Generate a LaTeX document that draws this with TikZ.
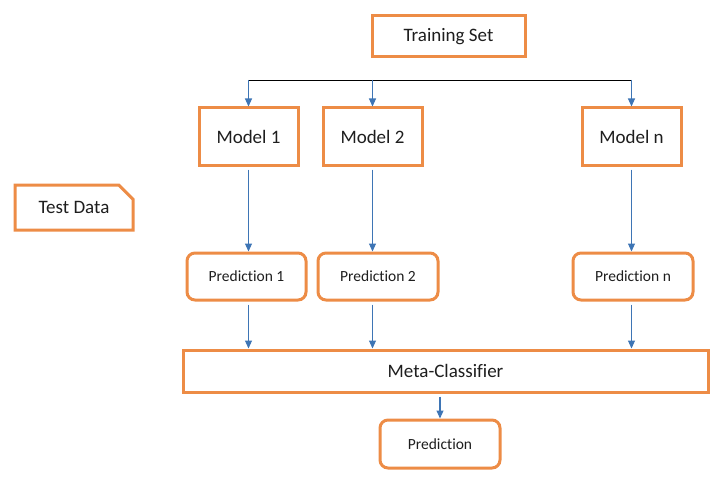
\documentclass[tikz,border=0pt]{standalone}
\usepackage{fontspec}
\setmainfont{Carlito}[Ligatures={NoCommon}]
\usetikzlibrary{positioning, arrows.meta, shapes.misc}
\definecolor{boxorange}{RGB}{237,140,70}
\definecolor{arrowblue}{RGB}{62,117,181}
\definecolor{textgray}{RGB}{30,30,30}
\tikzset{x=1pt,y=1pt,
  box/.style={draw=boxorange, line width=3pt, fill=white, inner sep=0pt, text=textgray, font=\fontsize{19}{22}\selectfont},
  predbox/.style={box, rounded corners=8pt, font=\fontsize{15.5}{18}\selectfont},
  snipbox/.style={box, chamfered rectangle, chamfered rectangle corners=north east, chamfered rectangle sep=8pt},
  flow/.style={draw=arrowblue, line width=1.1pt, -{Triangle[length=8pt,width=7pt]}}
}
\begin{document}
\begin{tikzpicture}
\useasboundingbox (0,0) rectangle (717,-484);
\node[box, minimum width=153pt, minimum height=41pt] (train) at (448.5,-36.5) {Training Set};
\node[box, minimum width=99pt, minimum height=57pt] (m1) at (248.5,-136.5) {Model 1};
\node[box, minimum width=99pt, minimum height=57pt] (m2) at (372.5,-136.5) {Model 2};
\node[box, minimum width=99pt, minimum height=57pt] (mn) at (631.5,-136.5) {Model n};
\node[snipbox, minimum width=118pt, minimum height=45pt] (test) at (74,-207.5) {Test Data};
\node[predbox, minimum width=119pt, minimum height=47pt] (p1) at (246.5,-276.5) {Prediction 1};
\node[predbox, minimum width=120pt, minimum height=47pt] (p2) at (378,-276.5) {Prediction 2};
\node[predbox, minimum width=120pt, minimum height=47pt] (pn) at (633,-276.5) {Prediction n};
\node[box, minimum width=525pt, minimum height=42pt] (meta) at (445.5,-371) {Meta-Classifier};
\node[predbox, minimum width=120pt, minimum height=48pt] (pred) at (440,-444) {Prediction};
\coordinate (b1) at (m1.north |- 0,-80);
\coordinate (b2) at (m2.north |- 0,-80);
\coordinate (bn) at (mn.north |- 0,-80);
% split to the models
\draw[line width=0.8pt] (b1) -- (bn);
\foreach \m/\b in {m1/b1, m2/b2, mn/bn}
  \draw[flow] (\b) -- (\m.north);
% models to predictions to meta-classifier
\foreach \m/\p in {m1/p1, m2/p2, mn/pn} {
  \draw[flow] ([yshift=-3pt]\m.south) -- (\m.south |- \p.north);
  \draw[flow] ([yshift=-3pt]\m.south |- \p.south) -- (\m.south |- meta.north);
}
\draw[flow] ([yshift=-3pt]pred.north |- meta.south) -- (pred.north);
\end{tikzpicture}
\end{document}
